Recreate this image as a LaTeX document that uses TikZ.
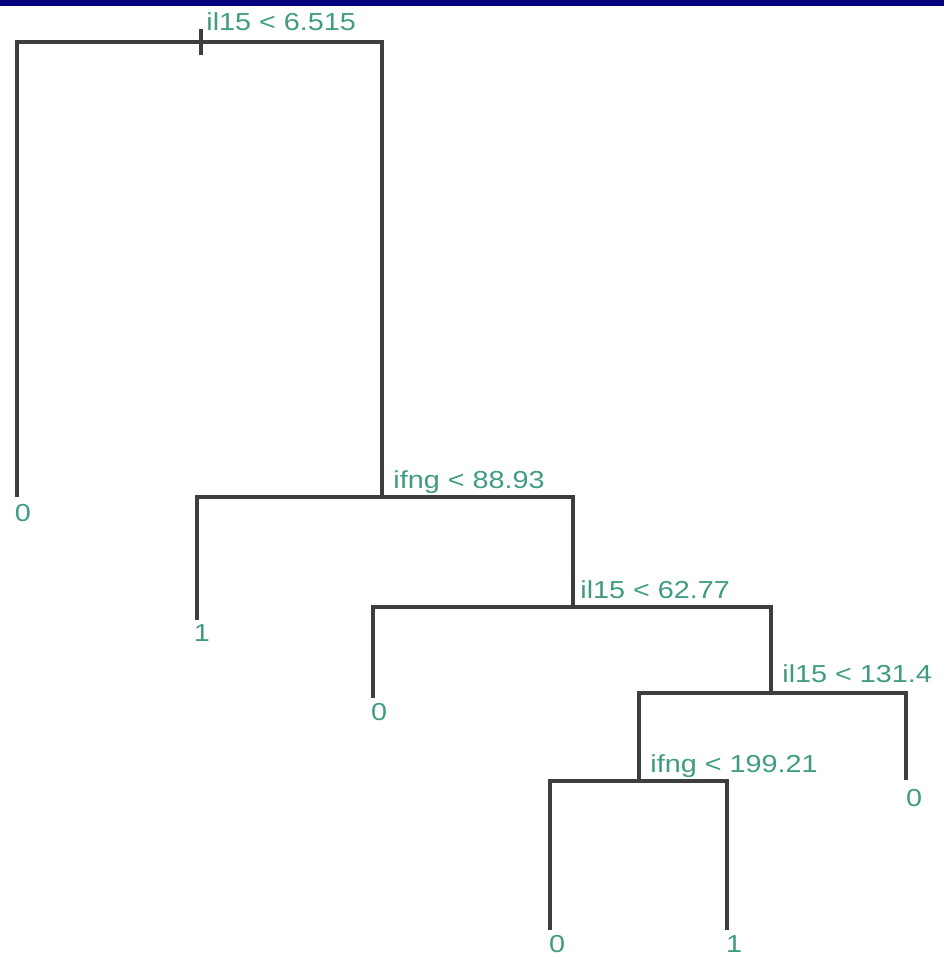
\documentclass[tikz,border=0pt]{standalone}
\usepackage{fontspec}
\setmainfont{Liberation Sans}
\definecolor{treegray}{HTML}{3E3E3E}
\definecolor{splitgreen}{HTML}{3F9C82}
\definecolor{barblue}{HTML}{000080}
\usetikzlibrary{positioning}
\begin{document}
\begin{tikzpicture}[x=0.02cm, y=-0.02cm,
    br/.style={draw=treegray, line width=2pt},
    cond/.style={font=\fontsize{14}{16}\selectfont, text=splitgreen, anchor=base west,
                 inner sep=0pt, xscale=1.17, transform shape},
    leaf/.style={font=\fontsize{14}{16}\selectfont, text=splitgreen, inner sep=0pt,
                 xscale=1.17, transform shape}]
    \useasboundingbox (0,0) rectangle (944,957);
    \fill[barblue] (0,0) rectangle (944,6);
    % splits
    \coordinate (s1) at (201,42);
    \coordinate (s2) at (382,497);
    \coordinate (s3) at (573,607);
    \coordinate (s4) at (771,693);
    \coordinate (s5) at (639,781);
    % leaf ends
    \coordinate (e1) at (17,497);
    \coordinate (e2) at (197,620);
    \coordinate (e3) at (373,698);
    \coordinate (e4) at (906,780);
    \coordinate (e5) at (550,930);
    \coordinate (e6) at (727,930);
    \coordinate (stem) at (201,29);
    \draw[br] (stem) -- ++(0,26);
    \draw[br] (s1) -| (e1);  \draw[br] (s1) -| (s2);
    \draw[br] (s2) -| (e2);  \draw[br] (s2) -| (s3);
    \draw[br] (s3) -| (e3);  \draw[br] (s3) -| (s4);
    \draw[br] (s4) -| (s5);  \draw[br] (s4) -| (e4);
    \draw[br] (s5) -| (e5);  \draw[br] (s5) -| (e6);
    \node[cond] (c1) at (206,30) {il15 < 6.515};
    \node[cond] (c2) at (393,488) {ifng < 88.93};
    \node[cond] (c3) at (580,598) {il15 < 62.77};
    \node[cond] (c4) at (782,682) {il15 < 131.4};
    \node[cond] (c5) at (650,772) {ifng < 199.21};
    \node[leaf] (lf1) at (23,513) {0};
    \node[leaf] (lf2) at (202,633) {1};
    \node[leaf] (lf3) at (379,712) {0};
    \node[leaf] (lf4) at (914,798) {0};
    \node[leaf] (lf5) at (557,944) {0};
    \node[leaf] (lf6) at (734,944) {1};
\end{tikzpicture}
\end{document}
